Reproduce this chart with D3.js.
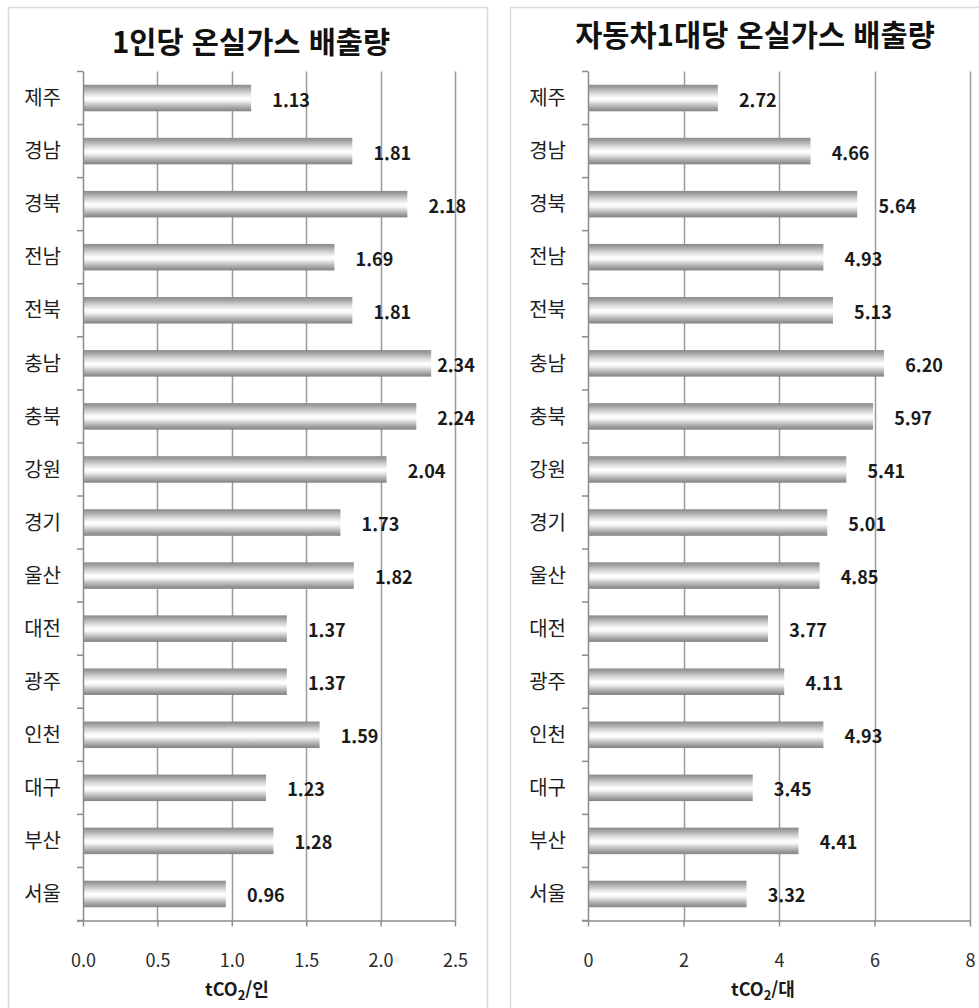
<!DOCTYPE html>
<html lang="ko">
<head>
<meta charset="utf-8">
<script src="https://cdn.jsdelivr.net/npm/d3@7"></script>
<style>
  html, body { margin: 0; padding: 0; background: #ffffff; }
  svg { display: block; }
  text { font-family: "Noto Sans CJK KR", "Noto Sans", sans-serif; }
</style>
</head>
<body>
<svg id="chart" width="979" height="1008"></svg>
<script>
// Regions, top to bottom
const categories = ['제주','경남','경북','전남','전북','충남','충북','강원','경기','울산','대전','광주','인천','대구','부산','서울'];
// Greenhouse gas emissions per person (tCO2/person)
const perCapita = [1.13, 1.81, 2.18, 1.69, 1.81, 2.34, 2.24, 2.04, 1.73, 1.82, 1.37, 1.37, 1.59, 1.23, 1.28, 0.96];
// Greenhouse gas emissions per vehicle (tCO2/vehicle)
const perVehicle = [2.72, 4.66, 5.64, 4.93, 5.13, 6.20, 5.97, 5.41, 5.01, 4.85, 3.77, 4.11, 4.93, 3.45, 4.41, 3.32];
// Axis ticks
const perCapitaTicks = [0, 0.5, 1.0, 1.5, 2.0, 2.5];
const perVehicleTicks = [0, 2, 4, 6, 8];
// Titles
const titles = ['1인당 온실가스 배출량', '자동차1대당 온실가스 배출량'];
const unitSuffix = ['인', '대'];

const svg = d3.select('#chart');

// Shared cylinder-like grey gradient for the bars
const defs = svg.append('defs');
const grad = defs.append('linearGradient')
  .attr('id', 'barGrad').attr('x1', 0).attr('y1', 0).attr('x2', 0).attr('y2', 1);
[
  [0, '#8a8a8a'], [0.12, '#a4a4a4'], [0.3, '#d4d4d4'], [0.5, '#ffffff'],
  [0.6, '#f6f6f6'], [0.78, '#bdbdbd'], [0.92, '#959595'], [1, '#858585']
].forEach(([o, c]) => grad.append('stop').attr('offset', o).attr('stop-color', c));

function drawPanel(cfg) {
  const g = svg.append('g');

  // panel frame
  g.append('rect')
    .attr('x', cfg.frame[0] + 0.5).attr('y', 7.5)
    .attr('width', cfg.frame[1] - cfg.frame[0]).attr('height', 1020)
    .attr('fill', '#ffffff').attr('stroke', '#d9d9d9').attr('stroke-width', 1.5);

  const x = d3.scaleLinear().domain(cfg.domain).range([cfg.x0, cfg.x1]);
  const y = d3.scaleBand().domain(categories).range([71.5, 920.5]).paddingInner(0.5).paddingOuter(0.25);

  // title
  g.append('text')
    .attr('x', cfg.titleX).attr('y', cfg.titleY)
    .attr('text-anchor', 'middle')
    .attr('font-size', 29.5).attr('font-weight', 700).attr('fill', '#111')
    .text(cfg.title);

  // vertical gridlines
  g.append('g').selectAll('line')
    .data(cfg.ticks.filter(t => t > 0))
    .join('line')
    .attr('x1', d => Math.round(x(d)) + 0.5).attr('x2', d => Math.round(x(d)) + 0.5)
    .attr('y1', 71.5).attr('y2', 920.5)
    .attr('stroke', '#9a9a9a').attr('stroke-width', 1.5);

  // bars
  g.append('g').selectAll('rect')
    .data(cfg.values)
    .join('rect')
    .attr('x', x(0) + 1)
    .attr('y', (d, i) => y(categories[i]))
    .attr('width', d => x(d) - x(0) - 1)
    .attr('height', y.bandwidth())
    .attr('fill', 'url(#barGrad)');

  // y axis with ticks at category boundaries
  const yAxisG = g.append('g');
  yAxisG.append('line')
    .attr('x1', x(0) + 0.5).attr('x2', x(0) + 0.5)
    .attr('y1', 71.5).attr('y2', 920.5)
    .attr('stroke', '#8c8c8c').attr('stroke-width', 1.5);
  const bounds = d3.range(categories.length + 1).map(i => 71.5 + i * (849 / categories.length));
  yAxisG.selectAll('line.tk').data(bounds).join('line').attr('class', 'tk')
    .attr('x1', x(0) - 6).attr('x2', x(0))
    .attr('y1', d => d).attr('y2', d => d)
    .attr('stroke', '#8c8c8c').attr('stroke-width', 1.5);
  yAxisG.selectAll('text').data(categories).join('text')
    .attr('x', x(0) - 22)
    .attr('y', d => y(d) + y.bandwidth() / 2)
    .attr('dy', '0.36em')
    .attr('text-anchor', 'end')
    .attr('font-size', 20).attr('fill', '#1e1e1e')
    .text(d => d);

  // x axis at the bottom
  const xAxis = d3.axisBottom(x).tickValues(cfg.ticks).tickSize(6).tickPadding(28).tickFormat(cfg.fmt);
  const xg = g.append('g').attr('transform', 'translate(0,920.5)').call(xAxis);
  xg.select('.domain').attr('stroke', '#8c8c8c').attr('stroke-width', 1.5)
    .attr('d', `M${x(0) - 6},0.5H${cfg.x1}`);
  xg.selectAll('.tick line').attr('stroke', '#8c8c8c').attr('stroke-width', 1.5);
  xg.selectAll('.tick text')
    .attr('font-size', 18).attr('fill', '#2a2a2a')
    .attr('font-family', '"Noto Sans CJK KR", "Noto Sans", sans-serif');

  // axis unit title
  const ut = g.append('text')
    .attr('x', cfg.unitX).attr('y', 996)
    .attr('text-anchor', 'middle')
    .attr('font-size', 18).attr('font-weight', 700).attr('fill', '#1a1a1a');
  ut.append('tspan').text('tCO');
  ut.append('tspan').attr('font-size', 13).attr('dy', 4).text('2');
  ut.append('tspan').attr('dy', -4).text('/' + cfg.unit);

  // value labels
  g.append('g').selectAll('text')
    .data(cfg.values)
    .join('text')
    .attr('x', d => Math.min(x(d) + 40, cfg.labelMax))
    .attr('y', (d, i) => y(categories[i]) + y.bandwidth() / 2 + 2)
    .attr('dy', '0.36em')
    .attr('text-anchor', 'middle')
    .attr('font-size', 18).attr('font-weight', 700).attr('fill', '#1a1a1a')
    .text(d => d.toFixed(2));
}

drawPanel({
  frame: [8, 487], domain: [0, 2.5], x0: 83, x1: 455,
  ticks: perCapitaTicks, fmt: d3.format('.1f'), values: perCapita,
  title: titles[0], titleX: 251, titleY: 53, unit: unitSuffix[0], unitX: 237, labelMax: 456
});

drawPanel({
  frame: [510, 1100], domain: [0, 8], x0: 588, x1: 970,
  ticks: perVehicleTicks, fmt: d3.format('d'), values: perVehicle,
  title: titles[1], titleX: 755, titleY: 46, unit: unitSuffix[1], unitX: 763, labelMax: 971
});
</script>
</body>
</html>
